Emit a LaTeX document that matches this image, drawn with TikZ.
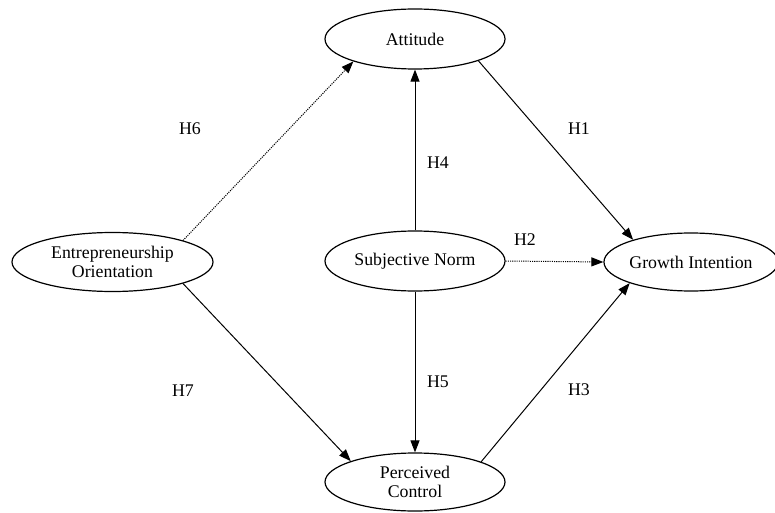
\documentclass[tikz,border=0pt]{standalone}
\usepackage{fontspec}
\setmainfont{Liberation Serif}
\usetikzlibrary{shapes.geometric,arrows.meta}
\begin{document}
\begin{tikzpicture}[x=1pt,y=1pt,
  every node/.style={font=\fontsize{17.8}{18.6}\selectfont},
  construct/.style={draw,ellipse,line width=1.2pt,inner sep=0pt,align=center},
  link/.style={line width=1pt,-{Triangle[length=12pt,width=9pt]}},
  dotlink/.style={link,dash pattern=on 1.1pt off 1.1pt},
  hlabel/.style={inner sep=0pt}]
\useasboundingbox (0,0) rectangle (775,512);
\node[construct,minimum width=180pt,minimum height=60pt] (att) at (415,473) {Attitude};
\node[construct,minimum width=201pt,minimum height=59pt] (eo) at (112.5,250) {Entrepreneurship\\Orientation};
\node[construct,minimum width=180pt,minimum height=60pt] (sn) at (415,251) {Subjective Norm};
\node[construct,minimum width=172pt,minimum height=58pt] (gi) at (691,250) {Growth Intention};
\node[construct,minimum width=180pt,minimum height=58pt] (pc) at (415,30) {Perceived\\Control};

\draw[dotlink] (eo.17.6) -- (att.200.3);
\draw[link] (att.-19) -- (gi.159.6);
\draw[link] (sn.north) -- (att.south);
\draw[dotlink] (sn.east) -- (gi.west);
\draw[link] (sn.south) -- (pc.north);
\draw[link] (eo.-17.2) -- (pc.162.9);
\draw[link] (pc.17.1) -- (gi.199.9);

\node[hlabel] (h6) at (190,383) {H6};
\node[hlabel] (h1) at (579,383) {H1};
\node[hlabel] (h4) at (438,349) {H4};
\node[hlabel] (h2) at (525,272) {H2};
\node[hlabel] (h5) at (438,130) {H5};
\node[hlabel] (h7) at (183,121) {H7};
\node[hlabel] (h3) at (579,122) {H3};
\end{tikzpicture}
\end{document}
